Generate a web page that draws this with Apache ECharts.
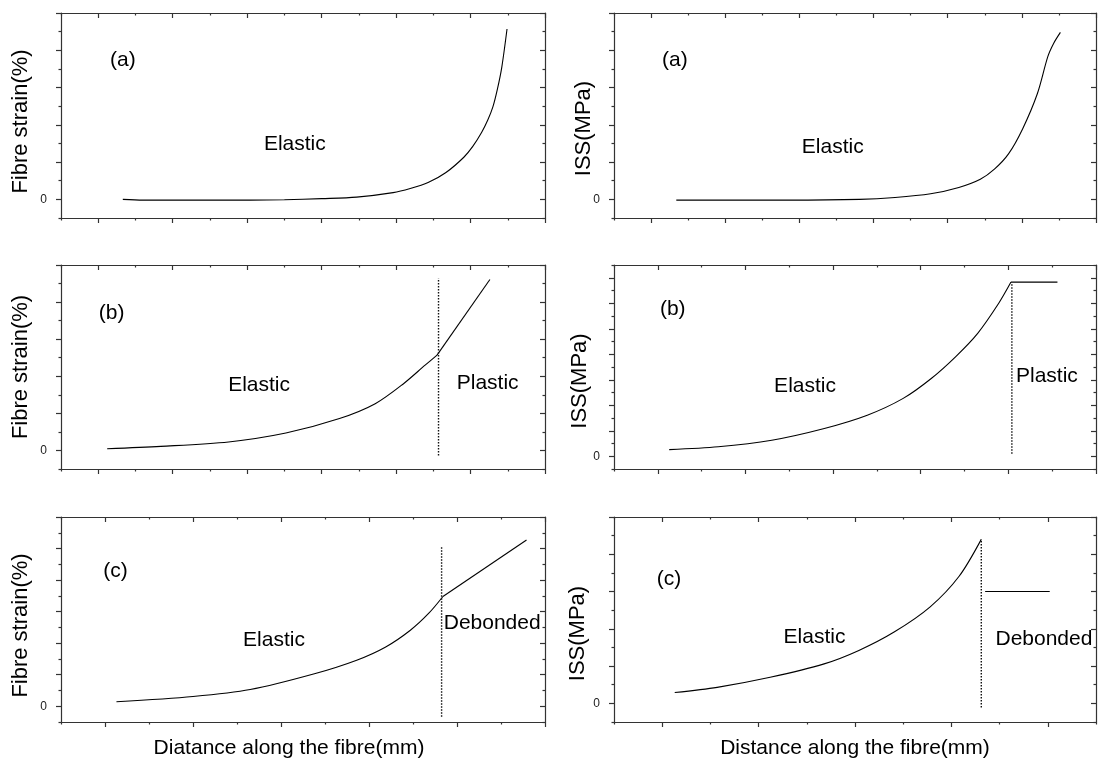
<!DOCTYPE html>
<html>
<head>
<meta charset="utf-8">
<script src="https://cdn.jsdelivr.net/npm/echarts@6/dist/echarts.min.js"></script>
<style>
  html, body { margin: 0; padding: 0; background: #ffffff; }
  #chart { width: 1098px; height: 767px; }
</style>
</head>
<body>
<div id="chart"></div>
<script>
// Fibre strain (left column) and interfacial shear stress (right column)
// along the fibre, for the three loading stages (a) elastic, (b) plastic, (c) debonded.

// ---- (a) elastic: fibre strain ----
const strainA_x = [0.33, 0.60, 1.00, 1.50, 2.04, 2.50, 3.00, 3.47, 3.96, 4.19, 4.43, 4.67, 4.91, 5.03, 5.15, 5.23, 5.30, 5.36, 5.42, 5.49];
const strainA_y = [0.00, -0.02, -0.02, -0.02, -0.02, -0.01, 0.02, 0.06, 0.18, 0.29, 0.45, 0.72, 1.13, 1.42, 1.80, 2.12, 2.48, 2.95, 3.55, 4.57];

// ---- (a) elastic: interfacial shear stress ----
const issA_x = [0.34, 1.00, 1.85, 2.81, 3.29, 3.77, 4.15, 4.44, 4.63, 4.82, 5.01, 5.21, 5.35, 5.43, 5.52];
const issA_y = [-0.02, -0.02, -0.02, 0.00, 0.05, 0.15, 0.32, 0.54, 0.81, 1.22, 1.89, 2.84, 3.83, 4.19, 4.48];

// ---- (b) plastic: fibre strain (elastic part, then linear plastic part) ----
const strainB_x = [0.12, 0.84, 1.75, 2.52, 3.24, 3.72, 4.10, 4.39, 4.55];
const strainB_y = [0.045, 0.11, 0.23, 0.47, 0.86, 1.26, 1.80, 2.30, 2.57];
const strainB_plastic_x = [4.55, 5.26];
const strainB_plastic_y = [2.57, 4.61];

// ---- (b) plastic: interfacial shear stress (rise, then plateau) ----
const issB_x = [0.13, 0.69, 1.30, 1.90, 2.39, 2.80, 3.12, 3.40, 3.65, 3.89, 4.03];
const issB_y = [0.26, 0.37, 0.63, 1.09, 1.61, 2.27, 3.05, 3.91, 4.82, 6.00, 6.83];
const issB_plateau_x = [4.03, 4.56];
const issB_plateau_y = [6.83, 6.83];

// ---- (c) debonded: fibre strain ----
const strainC_x = [0.13, 1.00, 1.65, 2.38, 2.86, 3.19, 3.47, 3.68, 3.84];
const strainC_y = [0.14, 0.31, 0.53, 1.03, 1.46, 1.88, 2.41, 2.95, 3.48];
const strainC_debond_x = [3.84, 4.79];
const strainC_debond_y = [3.48, 5.27];

// ---- (c) debonded: interfacial shear stress (rise, then friction level) ----
const issC_x = [0.13, 0.57, 1.12, 1.68, 2.04, 2.41, 2.78, 3.08, 3.31];
const issC_y = [0.29, 0.43, 0.70, 1.06, 1.42, 1.92, 2.59, 3.41, 4.40];
const issC_friction_x = [3.35, 4.02];
const issC_friction_y = [3.00, 3.00];

// ---- elastic / plastic / debonded boundaries: [x, yFrom, yTo] ----
const boundaryStrainB = [4.57, -0.135, 4.64];
const boundaryIssB = [4.04, 0.10, 6.79];
const boundaryStrainC = [3.825, -0.33, 5.04];
const boundaryIssC = [3.31, -0.11, 4.40];

// ---- region annotations: [text, x, y] in data units ----
const notesStrainA = [['(a)', 0.33, 3.74], ['Elastic', 2.64, 1.49]];
const notesIssA = [['(a)', 0.32, 3.74], ['Elastic', 2.45, 1.40]];
const notesStrainB = [['(b)', 0.18, 3.69], ['Elastic', 2.16, 1.76], ['Plastic', 5.23, 1.80]];
const notesIssB = [['(b)', 0.17, 5.77], ['Elastic', 1.68, 2.73], ['Plastic', 4.44, 3.12]];
const notesStrainC = [['(c)', 0.12, 4.28], ['Elastic', 1.92, 2.10], ['Debonded', 4.40, 2.63]];
const notesIssC = [['(c)', 0.07, 3.34], ['Elastic', 1.58, 1.78], ['Debonded', 3.96, 1.71]];

// ---- axis text ----
const yNameStrain = 'Fibre strain(%)';
const yNameIss = 'ISS(MPa)';
const xNameLeft = 'Diatance along the fibre(mm)';
const xNameRight = 'Distance along the fibre(mm)';
const yTickLabels = [0];

// ---------------------------------------------------------------
const FONT = '"Liberation Sans", Arial, Helvetica, sans-serif';
const AXIS_COLOR = '#333333';
const zip = (xs, ys) => xs.map((x, i) => [x, ys[i]]);
const steps = (from, to, step) => {
  const out = [];
  for (let v = from; v <= to + 1e-9; v += step) out.push(Math.round(v * 100) / 100);
  return out;
};

const panels = [
  { grid: { left: 61, right: 553, top: 13, bottom: 549 }, xr: [-0.5, 6], yr: [-0.5, 5],
    yName: yNameStrain, yShift: 12, yGap: 29,
    curves: [zip(strainA_x, strainA_y)], straight: [], boundary: null, notes: notesStrainA },
  { grid: { left: 61, right: 553, top: 265, bottom: 298 }, xr: [-0.5, 6], yr: [-0.5, 5],
    yName: yNameStrain, yShift: 0, yGap: 29,
    curves: [zip(strainB_x, strainB_y)], straight: [zip(strainB_plastic_x, strainB_plastic_y)],
    boundary: boundaryStrainB, notes: notesStrainB },
  { grid: { left: 61, right: 553, top: 517, bottom: 45 }, xr: [-0.5, 5], yr: [-0.5, 6],
    yName: yNameStrain, yShift: 12, yGap: 29, xName: xNameLeft, xShift: 28,
    curves: [zip(strainC_x, strainC_y)], straight: [zip(strainC_debond_x, strainC_debond_y)],
    boundary: boundaryStrainC, notes: notesStrainC },
  { grid: { left: 614, right: 2, top: 13, bottom: 549 }, xr: [-0.5, 6], yr: [-0.5, 5],
    yName: yNameIss, yShift: 26, yGap: 19,
    curves: [zip(issA_x, issA_y)], straight: [], boundary: null, notes: notesIssA },
  { grid: { left: 614, right: 2, top: 265, bottom: 298 }, xr: [-0.5, 5], yr: [-0.5, 7.5],
    yName: yNameIss, yShift: 28, yGap: 23,
    curves: [zip(issB_x, issB_y)], straight: [zip(issB_plateau_x, issB_plateau_y)],
    boundary: boundaryIssB, notes: notesIssB },
  { grid: { left: 614, right: 2, top: 517, bottom: 45 }, xr: [-0.5, 4.5], yr: [-0.5, 5],
    yName: yNameIss, yShift: 28, yGap: 25, xName: xNameRight, xShift: 0,
    curves: [zip(issC_x, issC_y)], straight: [zip(issC_friction_x, issC_friction_y)],
    boundary: boundaryIssC, notes: notesIssC }
];

const grids = [], xAxes = [], yAxes = [], series = [];
const lineStyle = { color: AXIS_COLOR, width: 1.2 };

panels.forEach((p, gi) => {
  grids.push(Object.assign({ containLabel: false }, p.grid));

  const xMajor = steps(0, p.xr[1], 1);
  const xMinor = steps(-0.5, p.xr[1], 1);
  const yMajor = steps(0, p.yr[1], 1);
  const yMinor = steps(-0.5, p.yr[1], 1);

  const baseX = { gridIndex: gi, type: 'value', min: p.xr[0], max: p.xr[1],
    splitLine: { show: false }, axisLabel: { show: false } };
  const baseY = { gridIndex: gi, type: 'value', min: p.yr[0], max: p.yr[1],
    splitLine: { show: false }, axisLabel: { show: false } };

  const xMain = xAxes.length;
  // bottom: outward ticks
  xAxes.push(Object.assign({}, baseX, {
    position: 'bottom',
    axisLine: { show: true, onZero: false, lineStyle },
    axisTick: { show: true, inside: false, length: 5, customValues: xMajor, lineStyle },
    name: p.xName || '', nameLocation: 'middle', nameGap: 16, nameMoveOverlap: false,
    nameTextStyle: { fontFamily: FONT, fontSize: 21, color: '#000',
      padding: [0, p.xShift || 0, 0, 0] }
  }));
  xAxes.push(Object.assign({}, baseX, {
    position: 'bottom',
    axisLine: { show: false, onZero: false },
    axisTick: { show: true, inside: false, length: 2.5, customValues: xMinor, lineStyle }
  }));
  // top: inward ticks
  xAxes.push(Object.assign({}, baseX, {
    position: 'top',
    axisLine: { show: true, onZero: false, lineStyle },
    axisTick: { show: true, inside: true, length: 5, customValues: xMajor, lineStyle }
  }));
  xAxes.push(Object.assign({}, baseX, {
    position: 'top',
    axisLine: { show: false, onZero: false },
    axisTick: { show: true, inside: true, length: 2.5, customValues: xMinor, lineStyle }
  }));

  const yMain = yAxes.length;
  // left: outward ticks, only the zero is labelled
  yAxes.push(Object.assign({}, baseY, {
    position: 'left',
    axisLine: { show: true, onZero: false, lineStyle },
    axisTick: { show: true, inside: false, length: 5, customValues: yMajor, lineStyle },
    axisLabel: { show: true, customValues: yTickLabels, margin: 14, fontSize: 12,
      fontFamily: FONT, color: '#222', padding: [6, 0, 0, 0] },
    name: p.yName, nameLocation: 'middle', nameGap: p.yGap, nameMoveOverlap: false,
    nameTextStyle: { fontFamily: FONT, fontSize: 22, color: '#000',
      padding: [0, p.yShift, 0, 0] }
  }));
  yAxes.push(Object.assign({}, baseY, {
    position: 'left',
    axisLine: { show: false, onZero: false },
    axisTick: { show: true, inside: false, length: 2.5, customValues: yMinor, lineStyle }
  }));
  // right: inward ticks
  yAxes.push(Object.assign({}, baseY, {
    position: 'right',
    axisLine: { show: true, onZero: false, lineStyle },
    axisTick: { show: true, inside: true, length: 5, customValues: yMajor, lineStyle }
  }));
  yAxes.push(Object.assign({}, baseY, {
    position: 'right',
    axisLine: { show: false, onZero: false },
    axisTick: { show: true, inside: true, length: 2.5, customValues: yMinor, lineStyle }
  }));

  const axisRef = { xAxisIndex: xMain, yAxisIndex: yMain };

  p.curves.forEach(c => series.push(Object.assign({
    type: 'line', data: c, smooth: 0.3, symbol: 'none',
    lineStyle: { color: '#000', width: 1.1 }, silent: true
  }, axisRef)));

  p.straight.forEach(c => series.push(Object.assign({
    type: 'line', data: c, symbol: 'none',
    lineStyle: { color: '#000', width: 1.1 }, silent: true
  }, axisRef)));

  if (p.boundary) {
    const [bx, y0, y1] = p.boundary;
    series.push(Object.assign({
      type: 'line', data: [[bx, y0], [bx, y1]], symbol: 'none',
      lineStyle: { color: '#111', width: 1.4, type: [1.5, 1.5] }, silent: true
    }, axisRef));
  }

  // region annotations placed in data coordinates
  series.push(Object.assign({
    type: 'scatter', symbolSize: 1, silent: true,
    itemStyle: { color: 'rgba(255,255,255,0)', opacity: 1 },
    data: p.notes.map(n => ({ name: n[0], value: [n[1], n[2]] })),
    label: { show: true, position: 'inside', formatter: '{b}', color: '#000', opacity: 1,
      textBorderWidth: 0, textBorderColor: 'transparent',
      fontFamily: FONT, fontSize: 21 }
  }, axisRef));
});

const chart = echarts.init(document.getElementById('chart'), null, { renderer: 'canvas' });
chart.setOption({
  animation: false,
  backgroundColor: '#ffffff',
  grid: grids,
  xAxis: xAxes,
  yAxis: yAxes,
  series: series
});
</script>
</body>
</html>
